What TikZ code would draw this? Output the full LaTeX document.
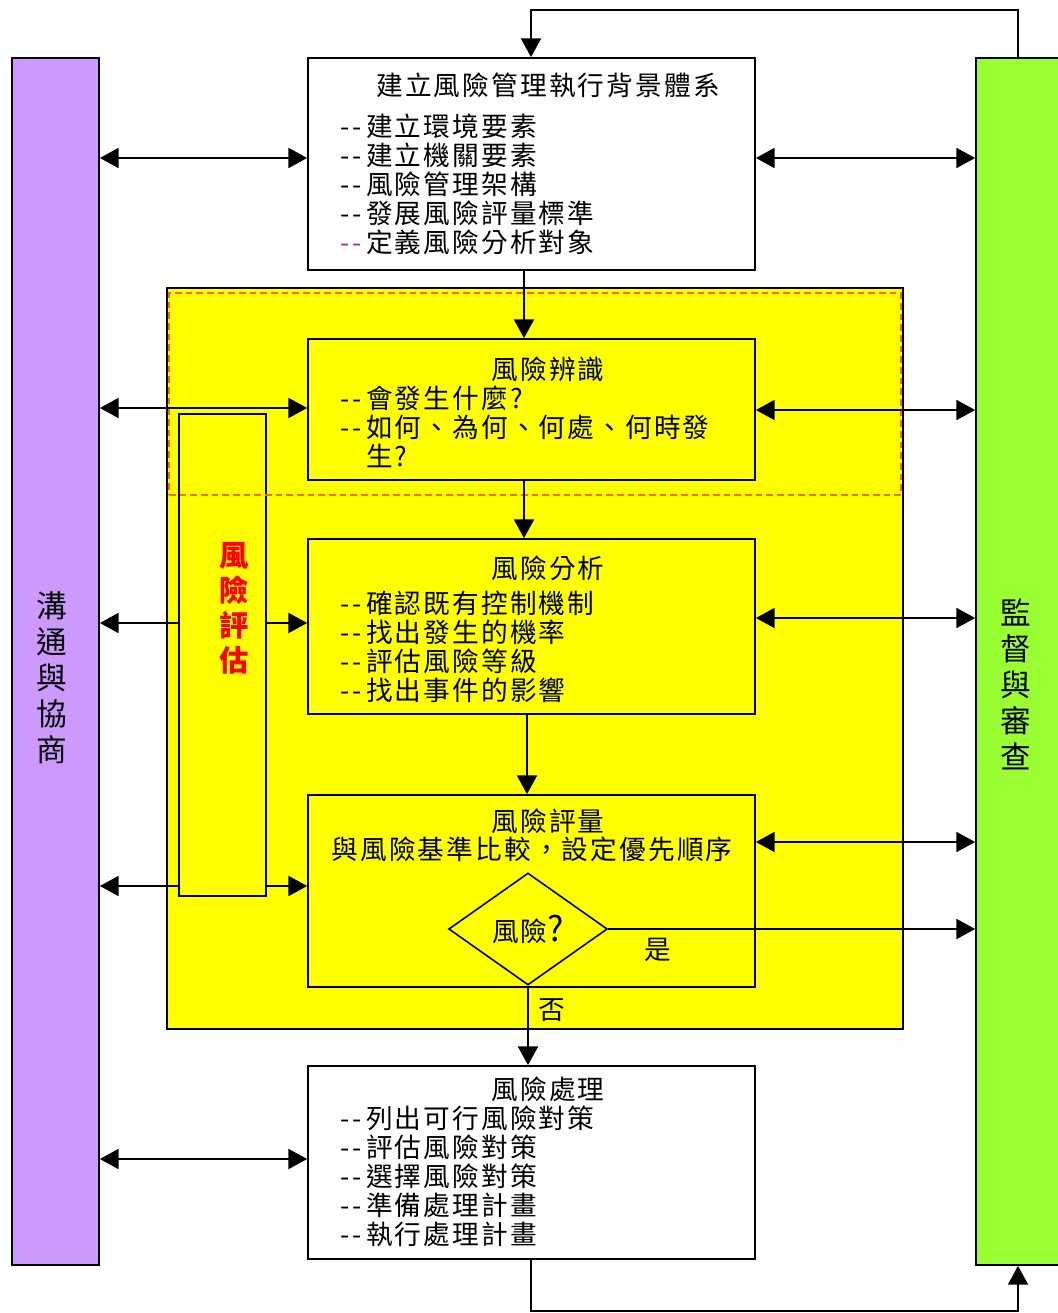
\documentclass[tikz,border=0pt]{standalone}
\usepackage{fontspec}
\newfontfamily\cjk[LetterSpace=8]{Noto Sans CJK TC}
\usetikzlibrary{arrows.meta}
\usetikzlibrary{shapes.geometric}
\usetikzlibrary{fit}

\definecolor{commpurple}{HTML}{CC99FF}
\definecolor{mongreen}{HTML}{99FF33}
\definecolor{zoneyellow}{HTML}{FFFF00}
\definecolor{dashorange}{HTML}{FF6600}
\definecolor{dashpurple}{HTML}{993399}

% leading dashes of the list lines
\newcommand{\lead}{-\kern2.5pt-\kern3pt}

\tikzset{
    box/.style={draw, line width=1.3pt, inner sep=0pt},
    stage/.style={box, fill=zoneyellow},
    head/.style={font=\cjk\fontsize{20pt}{21.6pt}\selectfont, inner sep=0pt},
    body/.style={head, align=left, anchor=north west},
    upright/.style={font=\cjk\fontsize{23pt}{27pt}\selectfont, align=center, inner sep=0pt},
    flow/.style={line width=1.2pt, -{Triangle[length=14pt,width=15pt]}},
    both/.style={line width=1.2pt, {Triangle[length=14pt,width=15pt]}-{Triangle[length=14pt,width=15pt]}},
}

\begin{document}
\begin{tikzpicture}[x=0.75pt,y=-0.75pt]
    \useasboundingbox (0,0) rectangle (1057,1313);

    % side bars
    \node[box, fill=commpurple, fit={(12,58) (99,1265)}] (comm) {};
    \node[box, fill=mongreen, fit={(976,58) (1075,1265)}] (mon) {};
    \node[upright] (commtxt) at (52,678) {溝\\通\\與\\協\\商};
    \node[upright] (montxt) at (1016,684) {監\\督\\與\\審\\查};

    % assessment zone
    \node[box, fill=zoneyellow, line width=0.9pt, fit={(167,288) (903,1029)}] (zone) {};
    \node[stage, fit={(179,414) (266,896)}] (assess) {};
    \node[upright, red, font=\cjk\bfseries\fontsize{22pt}{26.25pt}\selectfont] (assesstxt) at (234,608) {風\\險\\評\\估};
    \node[draw=dashorange, dash pattern=on 5pt off 3pt, line width=1.1pt, inner sep=0pt, fit={(169,293) (901,495)}] (identzone) {};

    % context
    \node[box, fill=white, fit={(308,58) (755,270)}] (ctx) {};
    \node[head] (ctxhead) at (548,85) {建立風險管理執行背景體系};
    \node[body] (ctxbody) at (340,114) {\lead 建立環境要素\\\lead 建立機關要素\\\lead 風險管理架構\\\lead 發展風險評量標準\\\textcolor{dashpurple}{\lead}定義風險分析對象};

    % identification
    \node[stage, fit={(308,339) (755,480)}] (ident) {};
    \node[head] (identhead) at (548,369) {風險辨識};
    \node[body] (identbody) at (340,386) {\lead 會發生什麼?\\\lead 如何、為何、何處、何時發\\\phantom{\lead}生?};

    % analysis
    \node[stage, fit={(308,539) (755,714)}] (anal) {};
    \node[head] (analhead) at (548,568) {風險分析};
    \node[body] (analbody) at (340,591) {\lead 確認既有控制機制\\\lead 找出發生的機率\\\lead 評估風險等級\\\lead 找出事件的影響};

    % evaluation
    \node[stage, fit={(308,795) (755,987)}] (evalu) {};
    \node[head] (evaluhead) at (548,821) {風險評量};
    \node[head] (evalusub) at (532,849) {與風險基準比較，設定優先順序};
    \node[draw, diamond, line width=1.2pt, fill=zoneyellow, inner sep=0pt,
          minimum width=119pt, minimum height=84pt, font=\cjk\fontsize{20pt}{21.6pt}\selectfont] (riskq) at (528,929) {風險{\fontsize{26pt}{26pt}\selectfont ?}};
    \node[head] (yes) at (658,950) {是};
    \node[head] (no) at (552,1010) {否};

    % treatment
    \node[box, fill=white, fit={(308,1066) (755,1259)}] (treat) {};
    \node[head] (treathead) at (548,1089) {風險處理};
    \node[body] (treatbody) at (340,1106) {\lead 列出可行風險對策\\\lead 評估風險對策\\\lead 選擇風險對策\\\lead 準備處理計畫\\\lead 執行處理計畫};

    % main flow
    \draw[flow] (mon.north -| 1018,0) -- (1018,10) -| (ctx.north -| 531,0);
    \draw[flow] (ctx.south -| 524,0) -- (ident.north -| 524,0);
    \draw[flow] (ident.south -| 524,0) -- (anal.north -| 524,0);
    \draw[flow] (anal.south -| 527,0) -- (evalu.north -| 527,0);
    \draw[flow] (riskq.south) -- (treat.north -| riskq.south);
    \draw[flow] (riskq.east) -- (mon.west |- riskq.east);
    \draw[flow] (treat.south -| 531,0) -- (531,1311) -| (mon.south -| 1018,0);

    % communication side
    \draw[both] (comm.east |- 0,158) -- (ctx.west |- 0,158);
    \draw[both] (comm.east |- 0,408) -- (ident.west |- 0,408);
    \draw[flow] (assess.west |- 0,623) -- (comm.east |- 0,623);
    \draw[flow] (assess.east |- 0,623) -- (anal.west |- 0,623);
    \draw[flow] (assess.west |- 0,886) -- (comm.east |- 0,886);
    \draw[flow] (assess.east |- 0,886) -- (evalu.west |- 0,886);
    \draw[both] (comm.east |- 0,1159) -- (treat.west |- 0,1159);

    % monitoring side
    \draw[both] (ctx.east |- 0,158) -- (mon.west |- 0,158);
    \draw[both] (ident.east |- 0,410) -- (mon.west |- 0,410);
    \draw[both] (anal.east |- 0,618) -- (mon.west |- 0,618);
    \draw[both] (evalu.east |- 0,842) -- (mon.west |- 0,842);
\end{tikzpicture}
\end{document}
